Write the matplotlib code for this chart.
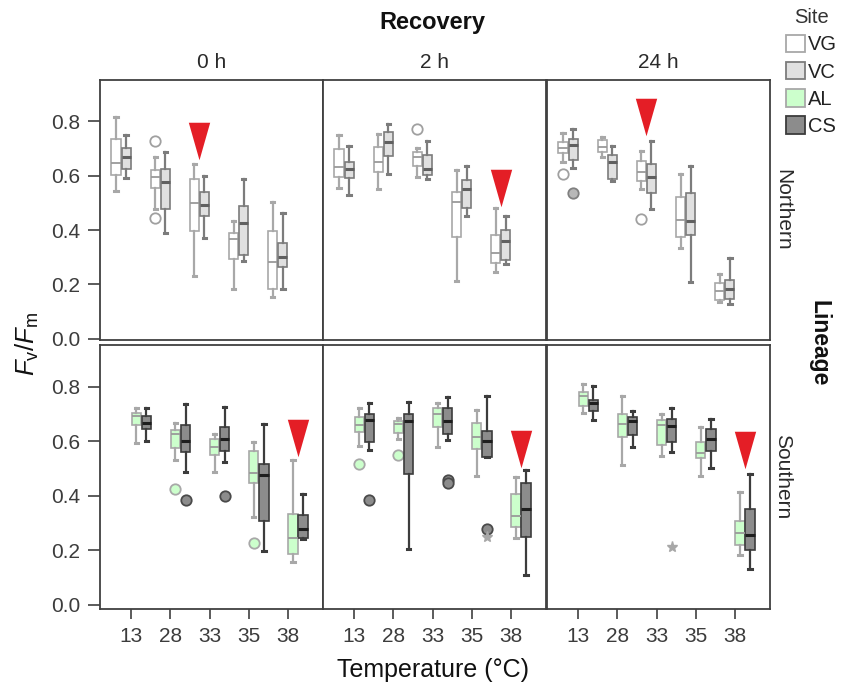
import matplotlib
matplotlib.use("Agg")
import matplotlib.pyplot as plt
from matplotlib.patches import Patch
from matplotlib.path import Path
import numpy as np

plt.rcParams['font.family'] = ['Liberation Sans', 'DejaVu Sans']
plt.rcParams['mathtext.fontset'] = 'custom'
plt.rcParams['mathtext.it'] = 'Liberation Sans:italic'
plt.rcParams['mathtext.rm'] = 'Liberation Sans'

temps = ['13', '28', '33', '35', '38']
recovery = ['0 h', '2 h', '24 h']
lineages = ['Northern', 'Southern']
sites = ['VG', 'VC', 'AL', 'CS']

# five-number summaries per temperature: [whisker low, q1, median, q3, whisker high]
VG_0h = [[0.544, 0.602, 0.645, 0.734, 0.814], [0.476, 0.555, 0.593, 0.620, 0.669],
         [0.231, 0.396, 0.498, 0.587, 0.641], [0.182, 0.294, 0.367, 0.388, 0.434],
         [0.153, 0.182, 0.281, 0.396, 0.502]]
VC_0h = [[0.592, 0.624, 0.669, 0.700, 0.749], [0.388, 0.476, 0.576, 0.623, 0.686],
         [0.372, 0.453, 0.491, 0.539, 0.597], [0.286, 0.308, 0.427, 0.489, 0.587],
         [0.183, 0.263, 0.302, 0.351, 0.461]]
VG_2h = [[0.555, 0.596, 0.630, 0.697, 0.749], [0.549, 0.612, 0.651, 0.703, 0.752],
         [0.596, 0.635, 0.667, 0.687, 0.700], [0.212, 0.376, 0.502, 0.538, 0.620],
         [0.245, 0.280, 0.317, 0.382, 0.479]]
VC_2h = [[0.527, 0.592, 0.625, 0.651, 0.709], [0.607, 0.672, 0.724, 0.758, 0.788],
         [0.587, 0.601, 0.623, 0.674, 0.727], [0.453, 0.479, 0.550, 0.583, 0.636],
         [0.275, 0.290, 0.361, 0.401, 0.453]]
VG_24h = [[0.648, 0.681, 0.702, 0.723, 0.757], [0.667, 0.686, 0.706, 0.730, 0.743],
          [0.550, 0.581, 0.613, 0.653, 0.690], [0.333, 0.376, 0.437, 0.520, 0.604],
          [0.135, 0.143, 0.175, 0.207, 0.237]]
VC_24h = [[0.629, 0.657, 0.712, 0.734, 0.772], [0.580, 0.587, 0.648, 0.675, 0.709],
          [0.477, 0.535, 0.596, 0.641, 0.728], [0.210, 0.380, 0.434, 0.537, 0.635],
          [0.128, 0.146, 0.182, 0.217, 0.298]]
AL_0h = [[0.596, 0.659, 0.694, 0.705, 0.724], [0.532, 0.575, 0.626, 0.642, 0.667],
         [0.489, 0.550, 0.579, 0.609, 0.628], [0.322, 0.449, 0.483, 0.565, 0.599],
         [0.159, 0.186, 0.247, 0.334, 0.532]]
CS_0h = [[0.601, 0.646, 0.668, 0.694, 0.722], [0.489, 0.563, 0.603, 0.661, 0.736],
         [0.526, 0.565, 0.610, 0.652, 0.727], [0.198, 0.309, 0.476, 0.517, 0.663],
         [0.241, 0.247, 0.280, 0.329, 0.406]]
AL_2h = [[0.585, 0.634, 0.661, 0.690, 0.722], [0.608, 0.630, 0.663, 0.676, 0.687],
         [0.579, 0.654, 0.700, 0.722, 0.740], [0.473, 0.571, 0.618, 0.669, 0.716],
         [0.247, 0.287, 0.328, 0.407, 0.471]]
CS_2h = [[0.568, 0.599, 0.678, 0.700, 0.740], [0.206, 0.480, 0.676, 0.701, 0.746],
         [0.606, 0.626, 0.675, 0.724, 0.765], [0.542, 0.542, 0.603, 0.639, 0.768],
         [0.110, 0.248, 0.352, 0.449, 0.495]]
AL_24h = [[0.705, 0.731, 0.768, 0.783, 0.811], [0.514, 0.615, 0.665, 0.701, 0.768],
          [0.547, 0.587, 0.659, 0.678, 0.701], [0.473, 0.541, 0.559, 0.598, 0.654],
          [0.183, 0.220, 0.265, 0.309, 0.416]]
CS_24h = [[0.678, 0.713, 0.740, 0.753, 0.805], [0.581, 0.624, 0.674, 0.689, 0.712],
          [0.561, 0.599, 0.658, 0.683, 0.722], [0.503, 0.565, 0.609, 0.647, 0.683],
          [0.131, 0.203, 0.257, 0.352, 0.482]]

# outliers (circles) and extremes (stars) per temperature
VG_0h_out = [[], [0.728, 0.443], [], [], []]
VC_0h_out = [[], [], [], [], []]
VG_2h_out = [[], [], [0.771], [], []]
VC_2h_out = [[], [], [], [], []]
VG_24h_out = [[0.604], [], [0.440], [], []]
VC_24h_out = [[0.535], [], [], [], []]
AL_0h_out = [[], [0.424], [], [0.228], []]
CS_0h_out = [[], [0.384], [0.399], [], []]
AL_2h_out = [[0.517], [0.550], [], [], []]
CS_2h_out = [[0.385], [], [0.459, 0.447], [0.278], []]
AL_24h_out = [[], [], [], [], []]
CS_24h_out = [[], [], [], [], []]
CS_2h_ext = [[], [], [], [0.251], []]
CS_24h_ext = [[], [], [0.213], [], []]

# significance markers: (temperature index, marker centre value) per panel
arrow_north = [(2, 0.728), (4, 0.555), (2, 0.816)]
arrow_south = [(4, 0.614), (4, 0.571), (4, 0.568)]

series = {
    (0, 0): [('VG', VG_0h, VG_0h_out, None), ('VC', VC_0h, VC_0h_out, None)],
    (0, 1): [('VG', VG_2h, VG_2h_out, None), ('VC', VC_2h, VC_2h_out, None)],
    (0, 2): [('VG', VG_24h, VG_24h_out, None), ('VC', VC_24h, VC_24h_out, None)],
    (1, 0): [('AL', AL_0h, AL_0h_out, None), ('CS', CS_0h, CS_0h_out, None)],
    (1, 1): [('AL', AL_2h, AL_2h_out, None), ('CS', CS_2h, CS_2h_out, CS_2h_ext)],
    (1, 2): [('AL', AL_24h, AL_24h_out, None), ('CS', CS_24h, CS_24h_out, CS_24h_ext)],
}

style = {
    'VG': dict(face='#ffffff', edge='#a8a8a8', med='#9a9a9a', mlw=1.3, wcol='#a8a8a8',
               fface='none', fedge='#a0a0a0'),
    'VC': dict(face='#e0e0e0', edge='#7c7c7c', med='#606060', mlw=2.2, wcol='#7c7c7c',
               fface='#b8b8b8', fedge='#808080'),
    'AL': dict(face='#ccffcc', edge='#a8a8a8', med='#9a9a9a', mlw=1.3, wcol='#a8a8a8',
               fface='#ccffcc', fedge='#a8a8a8'),
    'CS': dict(face='#8c8c8c', edge='#3c3c3c', med='#1e1e1e', mlw=2.2, wcol='#3c3c3c',
               fface='#8c8c8c', fedge='#4a4a4a'),
}
slot = 0.258
offsets = {'VG': -1.5 * slot, 'VC': -0.5 * slot, 'AL': 0.5 * slot, 'CS': 1.5 * slot}

tri = Path([(-0.285, 0.5), (0.285, 0.5), (0.0, -0.5), (-0.285, 0.5)],
           [Path.MOVETO, Path.LINETO, Path.LINETO, Path.CLOSEPOLY])

W, H = 844, 684
fig = plt.figure(figsize=(W / 100, H / 100), dpi=100)
lefts = [100, 323, 547]
pw = 223
rows = [(80, 340, -0.0037, 0.9505), (345, 609, -0.0147, 0.9541)]
spine_col = '#404040'
tick_col = '#3c3c3c'
x = np.arange(len(temps))

for r, (ytop, ybot, y0, y1) in enumerate(rows):
    for c in range(3):
        ax = fig.add_axes([lefts[c] / W, 1 - ybot / H, pw / W, (ybot - ytop) / H])
        for site, stats5, outs, ext in series[(r, c)]:
            st = style[site]
            bstats = []
            for i, v in enumerate(stats5):
                bstats.append(dict(whislo=v[0], q1=v[1], med=v[2], q3=v[3], whishi=v[4],
                                   fliers=outs[i]))
            ax.bxp(bstats, positions=x + offsets[site], widths=0.24, capwidths=0.09,
                   patch_artist=True, showfliers=True,
                   boxprops=dict(facecolor=st['face'], edgecolor=st['edge'], linewidth=1.2),
                   medianprops=dict(color=st['med'], linewidth=st['mlw']),
                   whiskerprops=dict(color=st['wcol'], linewidth=1.6),
                   capprops=dict(color=st['wcol'], linewidth=2.2),
                   flierprops=dict(marker='o', markersize=7.5, markerfacecolor=st['fface'],
                                   markeredgecolor=st['fedge'], markeredgewidth=1.3))
            if ext is not None:
                for i, vals in enumerate(ext):
                    for v in vals:
                        ax.plot(x[i] + offsets[site], v, marker='*', markersize=8,
                                color='#a8a8a8', linestyle='none')
        arr = arrow_north if r == 0 else arrow_south
        ti, tv = arr[c]
        off = -slot if r == 0 else slot
        ax.plot(x[ti] + off, tv, marker=tri, markersize=27, color='#e41e26',
                markeredgewidth=0, linestyle='none')

        ax.set_xlim(-0.8, 4.9)
        ax.set_ylim(y0, y1)
        for s in ax.spines.values():
            s.set_color(spine_col)
            s.set_linewidth(1.3)
        ax.set_yticks([0.0, 0.2, 0.4, 0.6, 0.8])
        ax.set_xticks(x)
        if c == 0:
            ax.set_yticklabels(['0.0', '0.2', '0.4', '0.6', '0.8'], fontsize=15, color=tick_col)
            ax.tick_params(axis='y', length=9, width=1.2, color=spine_col, pad=5)
        else:
            ax.tick_params(axis='y', left=False, labelleft=False)
        if r == 1:
            ax.set_xticklabels(temps, fontsize=15, color=tick_col)
            ax.tick_params(axis='x', length=7, width=1.2, color=spine_col, pad=6)
        else:
            ax.tick_params(axis='x', bottom=False, labelbottom=False)
            ax.text(0.5, 1 + 18 / (ybot - ytop), recovery[c], transform=ax.transAxes,
                    ha='center', va='center', fontsize=15, color='#2a2a2a')
        if c == 2:
            ax.text(1.058, 0.5, lineages[r], transform=ax.transAxes, rotation=270,
                    ha='center', va='center', fontsize=15, color='#2a2a2a')

fig.text(432 / W, 1 - 22 / H, 'Recovery', ha='center', va='center', fontsize=17,
         fontweight='bold', color='#111111')
fig.text(819 / W, 1 - 343 / H, 'Lineage', ha='center', va='center', fontsize=16.5,
         fontweight='bold', rotation=270, color='#111111')
fig.text(433 / W, 1 - 670 / H, 'Temperature (°C)', ha='center', va='center', fontsize=18,
         color='#111111')
fig.text(27 / W, 1 - 344 / H, r'$F_\mathrm{v}/F_\mathrm{m}$', ha='center', va='center',
         fontsize=18.5, rotation=90, color='#111111')

handles = [Patch(facecolor=style[s]['face'], edgecolor=style[s]['edge'], linewidth=1.3)
           for s in sites]
leg = fig.legend(handles, sites, title='Site', loc='upper left',
                 bbox_to_anchor=(786 / W, 1 - 8 / H), frameon=False, fontsize=14.5,
                 title_fontsize=14.5, handlelength=0.95, handleheight=0.95,
                 handletextpad=0.15, labelspacing=0.38, borderaxespad=0, borderpad=0)
leg.get_title().set_color('#333333')
for t in leg.get_texts():
    t.set_color('#222222')

fig.savefig('out.png', dpi=100)
